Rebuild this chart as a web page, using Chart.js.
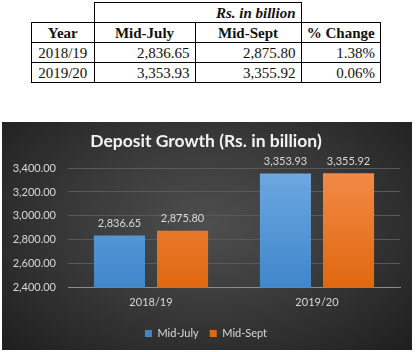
<!DOCTYPE html>
<html>
<head>
<meta charset="utf-8">
<script src="https://cdn.jsdelivr.net/npm/chart.js@4/dist/chart.umd.min.js"></script>
<style>
  body { margin: 0; background: #fff; width: 416px; height: 352px; position: relative; overflow: hidden; }
  table { position: absolute; left: 31px; top: 2px; border-collapse: collapse; font-family: "Liberation Serif", serif; font-size: 15px; color: #111; }
  td { border: 1.5px solid #000; height: 19px; padding: 0 5px; line-height: 18px; white-space: nowrap; }
  td.blank { border: none; }
  .head td { font-weight: bold; text-align: center; }
  .num { text-align: right; }
  .yr { text-align: center; }
  #wrap { position: absolute; left: 2px; top: 122px; width: 410px; height: 228px;
    background: radial-gradient(ellipse 70% 80% at 50% 45%, #4e4e4e 0%, #3a3a3a 45%, #1e1e1e 100%); }
</style>
</head>
<body>
<table>
  <tr><td class="blank" style="width:52px"></td><td colspan="2" style="text-align:right;font-weight:bold;font-style:italic;">Rs. in billion</td><td class="blank" style="width:69px"></td></tr>
  <tr class="head"><td>Year</td><td style="width:90px">Mid-July</td><td style="width:95px">Mid-Sept</td><td>% Change</td></tr>
  <tr><td class="yr">2018/19</td><td class="num">2,836.65</td><td class="num">2,875.80</td><td class="num">1.38%</td></tr>
  <tr><td class="yr">2019/20</td><td class="num">3,353.93</td><td class="num">3,355.92</td><td class="num">0.06%</td></tr>
</table>
<div id="wrap"><canvas id="depositChart" width="410" height="228"></canvas></div>
<script>
const years = ['2018/19', '2019/20']
const midJuly = [2836.65, 3353.93]
const midSept = [2875.80, 3355.92]
const yTicks = [2400, 2600, 2800, 3000, 3200, 3400]

const fmt = function(v) {
  return v.toLocaleString('en-US', { minimumFractionDigits: 2, maximumFractionDigits: 2 })
}

function barFill(top, bottom) {
  return function(ctx) {
    const area = ctx.chart.chartArea
    if (!area) return bottom
    const g = ctx.chart.ctx.createLinearGradient(0, area.top, 0, area.bottom)
    g.addColorStop(0, top)
    g.addColorStop(1, bottom)
    return g
  }
}

// value labels above each bar
const valueLabels = {
  id: 'valueLabels',
  afterDatasetsDraw(chart) {
    const ctx = chart.ctx
    ctx.save()
    ctx.fillStyle = '#d9d9d9'
    ctx.font = '11px Lato'
    ctx.textAlign = 'center'
    ctx.textBaseline = 'middle'
    chart.data.datasets.forEach(function(ds, i) {
      chart.getDatasetMeta(i).data.forEach(function(bar, j) {
        ctx.fillText(fmt(ds.data[j]), bar.x, bar.y - 12)
      })
    })
    ctx.restore()
  }
}

const smallFont = { family: 'Lato', size: 11 }

const el = document.getElementById('depositChart')
new Chart(el, {
  type: 'bar',
  data: {
    labels: years,
    datasets: [{
      label: 'Mid-July',
      data: midJuly,
      backgroundColor: barFill('#6ea9e2', '#3f86cb')
    }, {
      label: 'Mid-Sept',
      data: midSept,
      backgroundColor: barFill('#f28b48', '#e0680f')
    }]
  },
  options: {
    responsive: false,
    animation: false,
    datasets: { bar: { categoryPercentage: 0.76, barPercentage: 0.81 } },
    layout: { padding: { left: 10, right: 12, top: 0, bottom: 1 } },
    plugins: {
      title: {
        display: true,
        text: 'Deposit Growth (Rs. in billion)',
        color: '#f2f2f2',
        font: { family: 'Lato', size: 17.5, weight: 'bold' },
        padding: { top: 9, bottom: 16 }
      },
      legend: {
        position: 'bottom',
        labels: {
          color: '#d9d9d9',
          font: smallFont,
          boxWidth: 7, boxHeight: 7,
          padding: 11
        }
      },
      tooltip: { enabled: false }
    },
    scales: {
      x: {
        grid: { display: false, drawTicks: false },
        border: { color: '#8c8c8c' },
        ticks: { color: '#d9d9d9', font: smallFont, padding: 8 }
      },
      y: {
        min: 2400,
        max: 3400,
        afterFit: function(axis) { axis.width = 56 },
        afterBuildTicks: function(axis) { axis.ticks = yTicks.map(function(v) { return { value: v } }) },
        grid: { color: '#595959', drawTicks: false },
        border: { display: false },
        ticks: { color: '#d9d9d9', font: smallFont, padding: 12, callback: fmt }
      }
    }
  },
  plugins: [valueLabels]
})
</script>
</body>
</html>
